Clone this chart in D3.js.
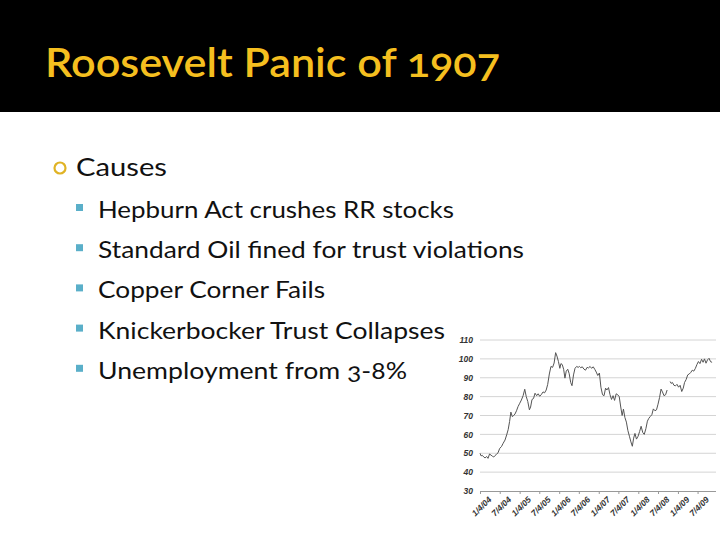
<!DOCTYPE html>
<html><head><meta charset="utf-8">
<script src="https://cdn.jsdelivr.net/npm/d3@7/dist/d3.min.js"></script>
<style>
html,body{margin:0;padding:0;background:#fff;}
svg{display:block;}
</style></head>
<body>
<svg id="c" width="720" height="540"></svg>
<script>
// ---- data ----
const titleText = "Roosevelt Panic of 1907";
const headingText = "Causes";
const bulletTexts = [
  "Hepburn Act crushes RR stocks",
  "Standard Oil fined for trust violations",
  "Copper Corner Fails",
  "Knickerbocker Trust Collapses",
  "Unemployment from 3-8%"
];
const yTicks = [30, 40, 50, 60, 70, 80, 90, 100, 110];
const xTickLabels = ["1/4/04","7/4/04","1/4/05","7/4/05","1/4/06","7/4/06","1/4/07","7/4/07","1/4/08","7/4/08","1/4/09","7/4/09"];
const xTickDates = ["1904-01-04","1904-07-04","1905-01-04","1905-07-04","1906-01-04","1906-07-04","1907-01-04","1907-07-04","1908-01-04","1908-07-04","1909-01-04","1909-07-04"];
const seriesDates = [
 "1904-01-04","1904-01-14","1904-01-25","1904-02-08","1904-02-20","1904-03-05","1904-03-18","1904-04-01","1904-04-15","1904-04-28","1904-05-10","1904-05-22","1904-06-05","1904-06-18",
 "1904-07-04","1904-07-20","1904-08-05","1904-08-22","1904-09-06","1904-09-20","1904-10-03","1904-10-15","1904-10-28","1904-11-10","1904-11-22","1904-12-06","1904-12-20",
 "1905-01-05","1905-01-20","1905-02-05","1905-02-20","1905-03-06","1905-03-20","1905-04-04","1905-04-15","1905-04-28","1905-05-12","1905-05-26","1905-06-10","1905-06-24",
 "1905-07-08","1905-07-22","1905-08-08","1905-08-22","1905-09-06","1905-09-20","1905-10-05","1905-10-20","1905-11-04","1905-11-18","1905-12-02","1905-12-14","1905-12-28",
 "1906-01-10","1906-01-20","1906-02-01","1906-02-14","1906-02-26","1906-03-10","1906-03-24","1906-04-06","1906-04-20","1906-05-02","1906-05-16","1906-05-30","1906-06-14","1906-06-28",
 "1906-07-10","1906-07-22","1906-08-05","1906-08-20","1906-09-04","1906-09-18","1906-10-02","1906-10-16","1906-10-30","1906-11-14","1906-11-28","1906-12-12","1906-12-26",
 "1907-01-10","1907-01-24","1907-02-08","1907-02-22","1907-03-08","1907-03-20","1907-04-04","1907-04-18","1907-05-02","1907-05-16","1907-05-30","1907-06-14","1907-06-28",
 "1907-07-12","1907-07-26","1907-08-08","1907-08-20","1907-09-02","1907-09-16","1907-09-30","1907-10-14","1907-10-28","1907-11-10","1907-11-22","1907-12-04","1907-12-18",
 "1908-01-02","1908-01-16","1908-01-30","1908-02-14","1908-02-28","1908-03-14","1908-03-28","1908-04-10","1908-04-24","1908-05-08","1908-05-22","1908-06-06","1908-06-20",
 "1908-07-04","1908-07-18","1908-08-01","1908-08-14","1908-08-28","1908-09-12","1908-09-26","1908-10-10",
 "1908-10-24",
 "1908-11-02","1908-11-14","1908-11-28","1908-12-12","1908-12-26",
 "1909-01-10","1909-01-24","1909-02-08","1909-02-22","1909-03-06","1909-03-20","1909-04-04","1909-04-18","1909-05-02","1909-05-16","1909-05-30","1909-06-14","1909-06-28",
 "1909-07-12","1909-07-26","1909-08-10","1909-08-24","1909-09-06","1909-09-20","1909-10-04","1909-10-18","1909-11-01","1909-11-15","1909-11-29","1909-12-10"
];
const seriesValues = [
 50.0,48.6,48.9,48.0,47.5,48.3,47.3,49.6,49.0,48.4,48.0,48.8,49.5,50.2,
 52.6,53.5,55.3,57.0,59.7,62.5,66.8,71.8,69.4,70.0,70.8,72.5,74.7,
 76.5,78.2,80.5,83.9,80.0,77.4,73.0,74.5,78.5,79.0,81.8,80.5,81.5,
 80.2,81.0,82.5,82.0,83.5,86.5,92.0,96.0,95.5,97.8,103.3,101.5,98.6,
 95.0,97.5,97.0,94.5,89.8,93.5,94.5,92.2,87.5,85.8,91.5,95.0,96.0,
 95.5,96.0,95.3,95.8,94.6,94.0,95.5,95.2,96.0,95.0,95.8,94.5,93.0,
 91.2,92.5,85.0,81.0,80.5,84.5,83.5,84.8,81.0,78.5,80.5,78.0,81.5,
 81.0,80.0,74.5,70.0,73.4,69.0,66.5,62.0,59.0,56.0,53.7,58.0,60.5,
 57.5,59.0,61.5,64.3,61.0,60.0,63.0,67.0,68.5,69.5,70.4,73.5,72.5,
 73.0,76.0,79.5,84.0,82.5,80.5,81.0,83.5,
 null,
 88.0,87.0,87.5,86.0,85.7,
 86.5,85.0,86.0,82.7,84.5,87.5,89.0,91.5,92.0,92.8,94.0,93.5,95.0,
 97.0,98.6,97.5,99.8,98.2,100.0,97.7,99.5,100.3,98.5,98.2
];

// ---- layout ----
const svg = d3.select("#c");
const parse = d3.timeParse("%Y-%m-%d");
const gold = "#F5BF1F";

svg.append("rect").attr("x",0).attr("y",0).attr("width",720).attr("height",112).attr("fill","#000");
svg.append("text").text(titleText)
  .attr("x",45).attr("y",77)
  .attr("font-family","Lato, 'Open Sans', sans-serif")
  .attr("font-weight",600)
  .attr("font-size",40)
  .attr("fill",gold)
  .attr("textLength",455).attr("lengthAdjust","spacingAndGlyphs")
  .style("font-variant-numeric","oldstyle-nums");

// heading bullet
svg.append("circle").attr("cx",60).attr("cy",168).attr("r",5.5)
  .attr("fill","none").attr("stroke","#E0B325").attr("stroke-width",2.2);
svg.append("text").text(headingText)
  .attr("x",76).attr("y",176)
  .attr("font-family","Lato, 'Open Sans', sans-serif")
  .attr("font-size",25).attr("fill","#111")
  .attr("textLength",91).attr("lengthAdjust","spacingAndGlyphs");

const bulletWidths = [356, 426, 227, 347, 309];
bulletTexts.forEach((t,i)=>{
  const yb = 218 + i*40.2;
  svg.append("rect").attr("x",76).attr("y",yb-14).attr("width",7).attr("height",7).attr("fill","#5AAFC9");
  svg.append("text").text(t)
    .attr("x",98).attr("y",yb)
    .attr("font-family","Lato, 'Open Sans', sans-serif")
    .attr("font-size",24).attr("fill","#111")
    .attr("textLength",bulletWidths[i]).attr("lengthAdjust","spacingAndGlyphs")
    .style("font-variant-numeric","oldstyle-nums");
});

// ---- chart ----
const x = d3.scaleTime()
  .domain([parse("1904-01-04"), parse("1910-01-04")])
  .range([480, 717.5]);
const y = d3.scaleLinear().domain([30,110]).range([491,340]);

const g = svg.append("g");
// gridlines
g.selectAll("line.grid").data(yTicks.filter(v=>v>30)).join("line")
  .attr("class","grid")
  .attr("x1",480).attr("x2",716)
  .attr("y1",d=>y(d)).attr("y2",d=>y(d))
  .attr("stroke","#d4d4d4").attr("stroke-width",1);

// y axis labels
const yAxis = d3.axisLeft(y).tickValues(yTicks).tickSize(0).tickPadding(7);
const ya = g.append("g").attr("transform","translate(480,0)").call(yAxis);
ya.select(".domain").remove();
ya.selectAll("text")
  .attr("font-family","'Liberation Sans', Arial, sans-serif")
  .attr("font-size",8.5).attr("font-style","italic").attr("font-weight","bold")
  .attr("fill","#333");

// x axis
const xAxis = d3.axisBottom(x)
  .tickValues(xTickDates.map(parse))
  .tickFormat((d,i)=>xTickLabels[i])
  .tickSize(3).tickPadding(4);
const xa = g.append("g").attr("transform","translate(0,491)").call(xAxis);
xa.select(".domain").attr("d","M480,0.5H716").attr("stroke","#999");
xa.selectAll(".tick line").attr("stroke","#999");
xa.selectAll("text")
  .attr("font-family","'Liberation Sans', Arial, sans-serif")
  .attr("font-size",8.5).attr("font-style","italic").attr("font-weight","bold")
  .attr("fill","#333")
  .attr("text-anchor","end")
  .attr("dx","0.2em").attr("dy","0.9em")
  .attr("transform","rotate(-45)");

// line
const pts = seriesDates.map((d,i)=>({date:parse(d), v:seriesValues[i]}));
const line = d3.line().defined(d=>d.v!==null).x(d=>x(d.date)).y(d=>y(d.v));
g.append("path").datum(pts).attr("d",line)
  .attr("fill","none").attr("stroke","#555").attr("stroke-width",1)
  .attr("stroke-linejoin","round");
</script>
</body></html>
